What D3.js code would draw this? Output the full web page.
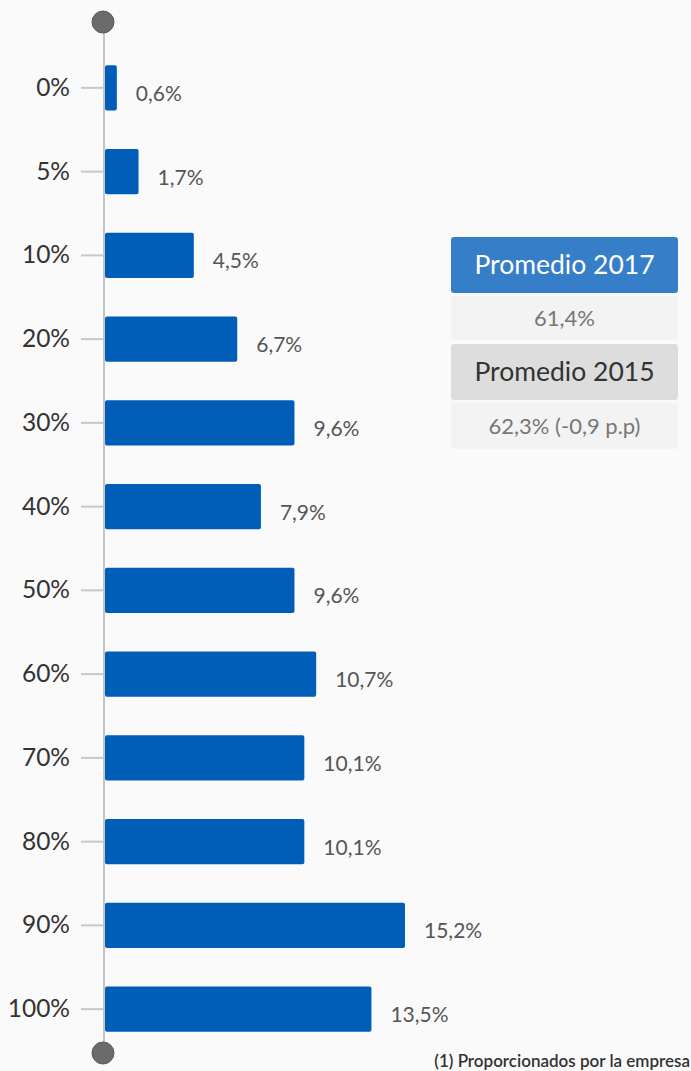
<!DOCTYPE html>
<html><head><meta charset="utf-8">
<script src="https://cdn.jsdelivr.net/npm/d3@7"></script>
<style>body{margin:0;background:#fafafa;}svg{display:block;}</style>
</head><body>
<script>
const categories = ["0%","5%","10%","20%","30%","40%","50%","60%","70%","80%","90%","100%"];
const values = [0.6,1.7,4.5,6.7,9.6,7.9,9.6,10.7,10.1,10.1,15.2,13.5];
const legendTitles = ["Promedio 2017","Promedio 2015"];
const legendValues = ["61,4%","62,3% (-0,9 p.p)"];
const footnote = "(1) Proporcionados por la empresa";

const W = 691, H = 1071;
const font = "Lato, 'Open Sans', sans-serif";
const svg = d3.select("body").append("svg").attr("width", W).attr("height", H);
svg.append("rect").attr("width", W).attr("height", H).attr("fill", "#fafafa");

const x0 = 105;
const x = d3.scaleLinear().domain([0, 15.2]).range([x0, 405]);
const y = d3.scaleBand().domain(categories).range([46, 1051]).paddingInner(0.46).paddingOuter(0.23);

svg.append("line").attr("x1", 104).attr("x2", 104).attr("y1", 22).attr("y2", 1053)
  .attr("stroke", "#c4c4c4").attr("stroke-width", 2);

const g = svg.append("g");
g.selectAll(".tick").data(categories).join("line")
  .attr("x1", 81).attr("x2", 104)
  .attr("y1", d => y(d) + y.bandwidth()/2).attr("y2", d => y(d) + y.bandwidth()/2)
  .attr("stroke", "#c8c8c8").attr("stroke-width", 2);

g.selectAll(".cat").data(categories).join("text")
  .attr("x", 70).attr("y", d => y(d) + y.bandwidth()/2 + 8)
  .attr("text-anchor", "end").attr("font-family", font).attr("font-size", 24.5)
  .attr("fill", "#333").text(d => d);

g.selectAll(".bar").data(values).join("rect")
  .attr("x", x0).attr("y", (d,i) => y(categories[i]))
  .attr("width", d => x(d) - x0).attr("height", y.bandwidth())
  .attr("rx", 2).attr("fill", "#005eb8");

g.selectAll(".val").data(values).join("text")
  .attr("x", d => x(d) + 19).attr("y", (d,i) => y(categories[i]) + y.bandwidth()/2 + 13)
  .attr("font-family", font).attr("font-size", 21).attr("fill", "#555")
  .text(d => d.toFixed(1).replace(".", ",") + "%");

[22, 1053].forEach(cy => svg.append("circle").attr("cx", 103).attr("cy", cy).attr("r", 11)
  .attr("fill", "#6b6b6b").attr("stroke", "#5a5a5a").attr("stroke-width", 1));

const lx = 451, lw = 227;
const boxes = [
  {y: 237, h: 56, fill: "#367ec8", text: legendTitles[0], color: "#fff", size: 26.5},
  {y: 296, h: 44, fill: "#f3f3f3", text: legendValues[0], color: "#777", size: 22},
  {y: 344, h: 56, fill: "#dddddd", text: legendTitles[1], color: "#333", size: 26.5},
  {y: 403, h: 46, fill: "#f3f3f3", text: legendValues[1], color: "#777", size: 22}
];
const lg = svg.append("g");
lg.selectAll("rect").data(boxes).join("rect")
  .attr("x", lx).attr("y", d => d.y).attr("width", lw).attr("height", d => d.h)
  .attr("rx", 3).attr("fill", d => d.fill);
lg.selectAll("text").data(boxes).join("text")
  .attr("x", lx + lw/2).attr("y", d => d.y + d.h/2 + d.size*0.35)
  .attr("text-anchor", "middle").attr("font-family", font).attr("font-size", d => d.size)
  .attr("fill", d => d.color).text(d => d.text);

svg.append("text").attr("x", 690).attr("y", 1067).attr("text-anchor", "end")
  .attr("font-family", font).attr("font-size", 17).attr("font-weight", 600).attr("fill", "#333")
  .text(footnote);
</script>
</body></html>
